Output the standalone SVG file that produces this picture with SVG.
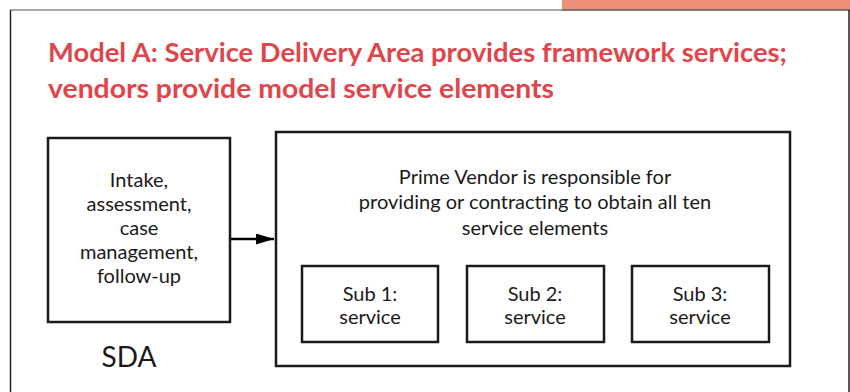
<svg xmlns="http://www.w3.org/2000/svg" width="850" height="392" viewBox="0 0 850 392">
<defs>
<marker id="arr" viewBox="0 0 18 11" refX="18" refY="5.5" markerWidth="18" markerHeight="11" markerUnits="userSpaceOnUse" orient="auto"><path d="M0,0 L18,5.5 L0,11 z" fill="#000"/></marker>
<style>
.box{fill:#fff;stroke:#1a1a1a;stroke-width:2.5}
.t{font-family:Lato,"Liberation Sans",sans-serif;font-size:20px;fill:#1a1a1a;text-anchor:middle}
.title{font-family:Lato,"Liberation Sans",sans-serif;font-weight:bold;font-size:27px;fill:#e0454b}
</style>
</defs>
<rect width="850" height="392" fill="#fff"/>
<rect x="562" y="0" width="288" height="9.5" fill="#ec8e77"/>
<line x1="10" y1="10" x2="562" y2="10" stroke="#8a8a8a" stroke-width="1.5"/>
<line x1="562" y1="10" x2="850" y2="10" stroke="#555" stroke-width="1.5"/>
<line x1="10.5" y1="10" x2="10.5" y2="392" stroke="#222" stroke-width="1.5"/>
<line x1="849" y1="10" x2="849" y2="392" stroke="#222" stroke-width="1.5"/>
<g id="title">
<text class="title" x="48" y="62" textLength="739" lengthAdjust="spacingAndGlyphs">Model A: Service Delivery Area provides framework services;</text>
<text class="title" x="48" y="98" textLength="506" lengthAdjust="spacingAndGlyphs">vendors provide model service elements</text>
</g>
<g id="sda">
<rect class="box" x="48" y="138" width="182" height="184"/>
<text class="t" x="139" y="187">Intake,</text>
<text class="t" x="139" y="211">assessment,</text>
<text class="t" x="139" y="235">case</text>
<text class="t" x="139" y="259">management,</text>
<text class="t" x="139" y="283">follow-up</text>
<text class="t" x="129" y="367" style="font-size:28px">SDA</text>
</g>
<g id="prime">
<rect class="box" x="276" y="132" width="514" height="234"/>
<text class="t" x="535" y="184">Prime Vendor is responsible for</text>
<text class="t" x="535" y="209">providing or contracting to obtain all ten</text>
<text class="t" x="535" y="235">service elements</text>
</g>
<g id="sub1">
<rect class="box" x="302" y="266" width="136" height="76"/>
<text class="t" x="370" y="301">Sub 1:</text>
<text class="t" x="370" y="324">service</text>
</g>
<g id="sub2">
<rect class="box" x="467" y="266" width="137" height="76"/>
<text class="t" x="535" y="301">Sub 2:</text>
<text class="t" x="535" y="324">service</text>
</g>
<g id="sub3">
<rect class="box" x="632" y="266" width="137" height="76"/>
<text class="t" x="700" y="301">Sub 3:</text>
<text class="t" x="700" y="324">service</text>
</g>
<g id="connectors">
<line x1="231" y1="239" x2="274" y2="239" stroke="#000" stroke-width="2.5" marker-end="url(#arr)"/>
</g>
</svg>
